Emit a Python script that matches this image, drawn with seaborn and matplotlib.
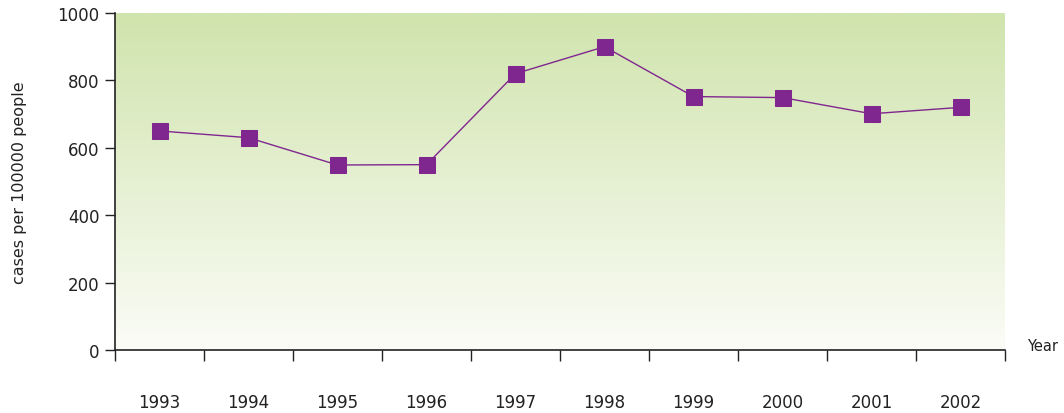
import numpy as np
import pandas as pd
import matplotlib
matplotlib.use("Agg")
import matplotlib.pyplot as plt
import seaborn as sns
from matplotlib.colors import LinearSegmentedColormap

years = ["1993", "1994", "1995", "1996", "1997", "1998", "1999", "2000", "2001", "2002"]
cases = [650, 630, 549, 550, 820, 900, 752, 749, 701, 720]
y_ticks = [0, 200, 400, 600, 800, 1000]

sns.set_theme(style="white")
plt.rcParams['font.family'] = ['DejaVu Sans']

fig = plt.figure(figsize=(10.64, 4.14), dpi=100)
ax = fig.add_axes([115/1064, 63/414, 890/1064, 337/414])

df = pd.DataFrame({"pos": np.arange(len(years)), "cases": cases})

# gradient background
cmap = LinearSegmentedColormap.from_list("g", ["#fbfcf7", "#d0e4ad"])
grad = np.linspace(0, 1, 256).reshape(-1, 1)
ax.imshow(grad, cmap=cmap, aspect="auto", origin="lower",
          extent=[-0.5, len(years) - 0.5, 0, 1000], zorder=0)

sns.lineplot(data=df, x="pos", y="cases", ax=ax, color="#80278f", lw=1.0,
             marker="s", markersize=11.5, markeredgecolor="#80278f",
             markerfacecolor="#80278f", zorder=3)

ax.set_xlim(-0.5, len(years) - 0.5)
ax.set_ylim(0, 1000)
ax.set_yticks(y_ticks)
ax.tick_params(axis="y", which="major", left=True, length=7, width=1, color="#222222",
               labelsize=12, labelcolor="#222222", pad=4)

ax.set_xticks(np.arange(-0.5, len(years), 1.0))
ax.set_xticklabels([])
ax.set_xticks(np.arange(len(years)), minor=True)
ax.set_xticklabels(years, minor=True)
ax.tick_params(axis="x", which="major", bottom=True, length=8, width=1, color="#222222")
ax.tick_params(axis="x", which="minor", bottom=False, length=0, labelsize=12,
               labelcolor="#222222", pad=31)

for s in ["top", "right"]:
    ax.spines[s].set_visible(False)
for s in ["left", "bottom"]:
    ax.spines[s].set_color("#222222")
    ax.spines[s].set_linewidth(1.2)

ax.set_xlabel("")
ax.set_ylabel("cases per 100000 people", fontsize=11.5, color="#222222", labelpad=22)
fig.text(1027/1064, 1 - 347/414, "Year", fontsize=10.5, color="#222222", va="center", ha="left")

fig.savefig("out.png", dpi=100)
